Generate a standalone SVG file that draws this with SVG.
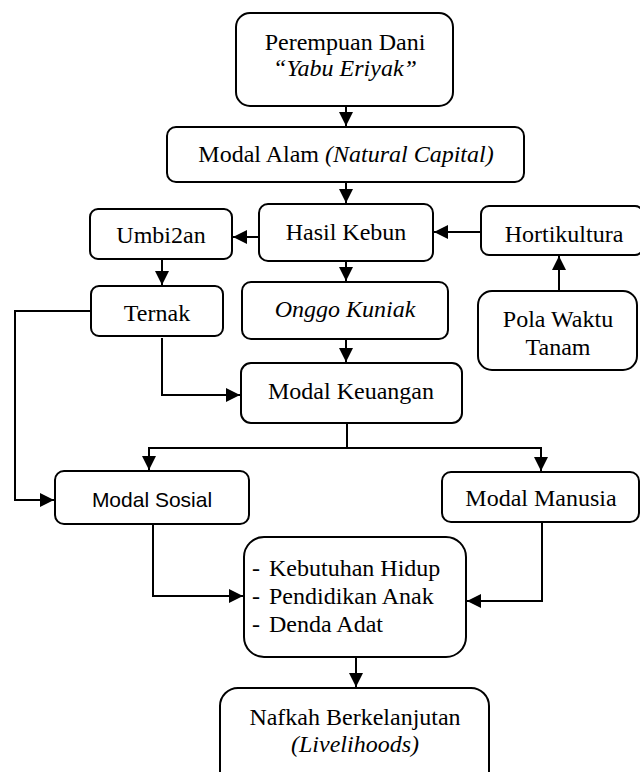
<svg xmlns="http://www.w3.org/2000/svg" width="640" height="772" viewBox="0 0 640 772">
  <style>
    .box { fill: #ffffff; stroke: #000000; stroke-width: 2; }
    .t { font-family: "Liberation Serif", "Times New Roman", serif; font-size: 24px; fill: #000000; text-anchor: middle; }
    .ts { font-family: "Liberation Sans", Arial, sans-serif; font-size: 21px; fill: #000000; text-anchor: middle; }
    .tl { font-family: "Liberation Serif", "Times New Roman", serif; font-size: 24px; fill: #000000; }
    .i { font-style: italic; }
    .c { fill: none; stroke: #000000; stroke-width: 2; }
  </style>
  <defs>
    <marker id="arr" markerUnits="userSpaceOnUse" markerWidth="15" markerHeight="15" refX="14" refY="7" orient="auto">
      <path d="M0,0 L14,7 L0,14 Z" fill="#000000"/>
    </marker>
  </defs>
  <rect width="640" height="772" fill="#ffffff"/>

  <g id="connectors">
    <line class="c" x1="346" y1="106" x2="346" y2="126" marker-end="url(#arr)"/>
    <line class="c" x1="346" y1="182" x2="346" y2="203" marker-end="url(#arr)"/>
    <line class="c" x1="259" y1="237" x2="233" y2="237" marker-end="url(#arr)"/>
    <line class="c" x1="481" y1="232" x2="434" y2="232" marker-end="url(#arr)"/>
    <line class="c" x1="559" y1="291" x2="559" y2="256" marker-end="url(#arr)"/>
    <line class="c" x1="162" y1="259" x2="162" y2="285" marker-end="url(#arr)"/>
    <line class="c" x1="346" y1="261" x2="346" y2="281" marker-end="url(#arr)"/>
    <line class="c" x1="346" y1="339" x2="346" y2="362" marker-end="url(#arr)"/>
    <polyline class="c" points="162,338 162,395 240,395" marker-end="url(#arr)"/>
    <polyline class="c" points="91,311 15,311 15,500 54,500" marker-end="url(#arr)"/>
    <line class="c" x1="347" y1="423" x2="347" y2="448"/>
    <line class="c" x1="148" y1="448" x2="542" y2="448"/>
    <line class="c" x1="149" y1="447" x2="149" y2="470" marker-end="url(#arr)"/>
    <line class="c" x1="541" y1="447" x2="541" y2="471" marker-end="url(#arr)"/>
    <polyline class="c" points="153,525 153,596 243,596" marker-end="url(#arr)"/>
    <polyline class="c" points="542,523 542,601 467,601" marker-end="url(#arr)"/>
    <line class="c" x1="356" y1="657" x2="356" y2="687" marker-end="url(#arr)"/>
  </g>

  <g id="perempuan-dani">
    <rect class="box" x="236" y="13" width="217" height="93" rx="14"/>
    <text class="t" x="345" y="50">Perempuan Dani</text>
    <text class="t i" x="345" y="76">“Yabu Eriyak”</text>
  </g>
  <g id="modal-alam">
    <rect class="box" x="167" y="127" width="357" height="55" rx="9"/>
    <text class="t" x="346" y="162">Modal Alam <tspan class="i">(Natural Capital)</tspan></text>
  </g>
  <g id="umbi2an">
    <rect class="box" x="90" y="209" width="142" height="50" rx="8"/>
    <text class="t" x="161" y="243">Umbi2an</text>
  </g>
  <g id="hasil-kebun">
    <rect class="box" x="259" y="204" width="174" height="57" rx="9"/>
    <text class="t" x="346" y="240">Hasil Kebun</text>
  </g>
  <g id="hortikultura">
    <rect class="box" x="481" y="206" width="162" height="49" rx="8"/>
    <text class="t" x="564" y="242">Hortikultura</text>
  </g>
  <g id="pola-waktu-tanam">
    <rect class="box" x="478" y="291" width="159" height="79" rx="14"/>
    <text class="t" x="558" y="327">Pola Waktu</text>
    <text class="t" x="558" y="355">Tanam</text>
  </g>
  <g id="ternak">
    <rect class="box" x="91" y="286" width="132" height="50" rx="8"/>
    <text class="t" x="157" y="321">Ternak</text>
  </g>
  <g id="onggo-kuniak">
    <rect class="box" x="242" y="282" width="206" height="57" rx="9"/>
    <text class="t i" x="345" y="317">Onggo Kuniak</text>
  </g>
  <g id="modal-keuangan">
    <rect class="box" x="241" y="363" width="221" height="60" rx="10"/>
    <text class="t" x="351" y="399">Modal Keuangan</text>
  </g>
  <g id="modal-sosial">
    <rect class="box" x="55" y="471" width="194" height="53" rx="9"/>
    <text class="ts" x="152" y="507">Modal Sosial</text>
  </g>
  <g id="modal-manusia">
    <rect class="box" x="442" y="472" width="197" height="50" rx="9"/>
    <text class="t" x="541" y="506">Modal Manusia</text>
  </g>
  <g id="kebutuhan">
    <rect class="box" x="244" y="537" width="222" height="120" rx="20"/>
    <text class="tl" x="252" y="576">-</text>
    <text class="tl" x="269" y="576">Kebutuhan Hidup</text>
    <text class="tl" x="252" y="604">-</text>
    <text class="tl" x="269" y="604">Pendidikan Anak</text>
    <text class="tl" x="252" y="632">-</text>
    <text class="tl" x="269" y="632">Denda Adat</text>
  </g>
  <g id="nafkah">
    <rect class="box" x="220" y="688" width="269" height="104" rx="18"/>
    <text class="t" x="355" y="725">Nafkah Berkelanjutan</text>
    <text class="t i" x="355" y="752">(Livelihoods)</text>
  </g>
</svg>
